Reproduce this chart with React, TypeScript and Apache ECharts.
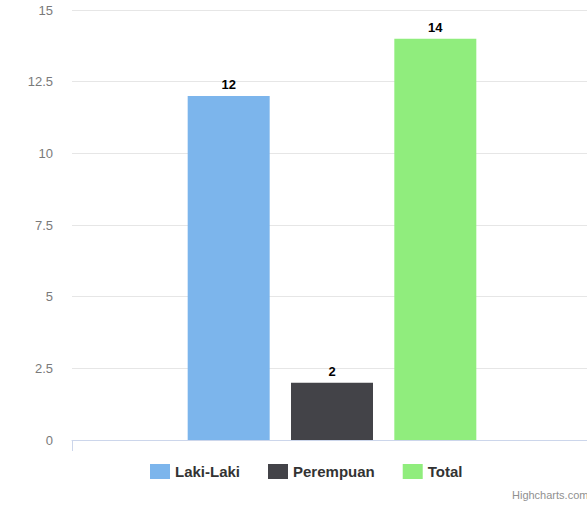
import React, { useEffect, useRef } from "react";
import * as echarts from "echarts";

const categories = [""];
const seriesNames = ["Laki-Laki", "Perempuan", "Total"];
const seriesValues = [[12], [2], [14]];
const seriesColors = ["#7cb5ec", "#434348", "#90ed7d"];
const yTicks = { min: 0, max: 15, interval: 2.5 };

const FONT = "'Liberation Sans', Arial, Helvetica, sans-serif";

export default function App() {
  const ref = useRef<HTMLDivElement>(null);
  useEffect(() => {
    if (!ref.current) return;
    const chart = echarts.init(ref.current, undefined, { renderer: "svg" });
    chart.setOption({
      animation: false,
      backgroundColor: "#ffffff",
      grid: { left: 72, right: 8, top: 10, bottom: 65, containLabel: false },
      legend: {
        top: 459,
        left: 145,
        itemWidth: 20,
        itemHeight: 15,
        itemGap: 28,
        icon: "rect",
        textStyle: { fontFamily: FONT, fontSize: 15, fontWeight: "bold", color: "#333333" },
        data: seriesNames,
      },
      xAxis: {
        type: "category",
        data: categories,
        axisLine: { lineStyle: { color: "#ccd6eb", width: 1 } },
        axisTick: { show: true, length: 11, lineStyle: { color: "#ccd6eb" } },
        axisLabel: { show: false },
      },
      yAxis: {
        type: "value",
        min: yTicks.min,
        max: yTicks.max,
        interval: yTicks.interval,
        axisLine: { show: false },
        axisTick: { show: false },
        splitLine: { lineStyle: { color: "#e6e6e6", width: 1 } },
        axisLabel: {
          margin: 19,
          fontFamily: FONT,
          fontSize: 13,
          color: "#7a7a7a",
        },
      },
      series: seriesNames.map((name, i) => ({
        name,
        type: "bar",
        data: seriesValues[i],
        barWidth: 82,
        barGap: "26%",
        itemStyle: { color: seriesColors[i] },
        label: {
          show: true,
          position: "top",
          distance: 5,
          fontFamily: FONT,
          fontSize: 13,
          fontWeight: "bold",
          color: "#000000",
        },
      })),
      graphic: [
        {
          type: "text",
          left: 512,
          top: 489,
          style: {
            text: "Highcharts.com",
            fontFamily: FONT,
            fontSize: 11,
            fill: "#909090",
          },
        },
      ],
    });
    return () => chart.dispose();
  }, []);
  return (
    <div style={{ position: "absolute", left: 0, top: 0, width: 587, height: 505, overflow: "hidden" }}>
      <div ref={ref} style={{ width: 600, height: 505 }} />
    </div>
  );
}
